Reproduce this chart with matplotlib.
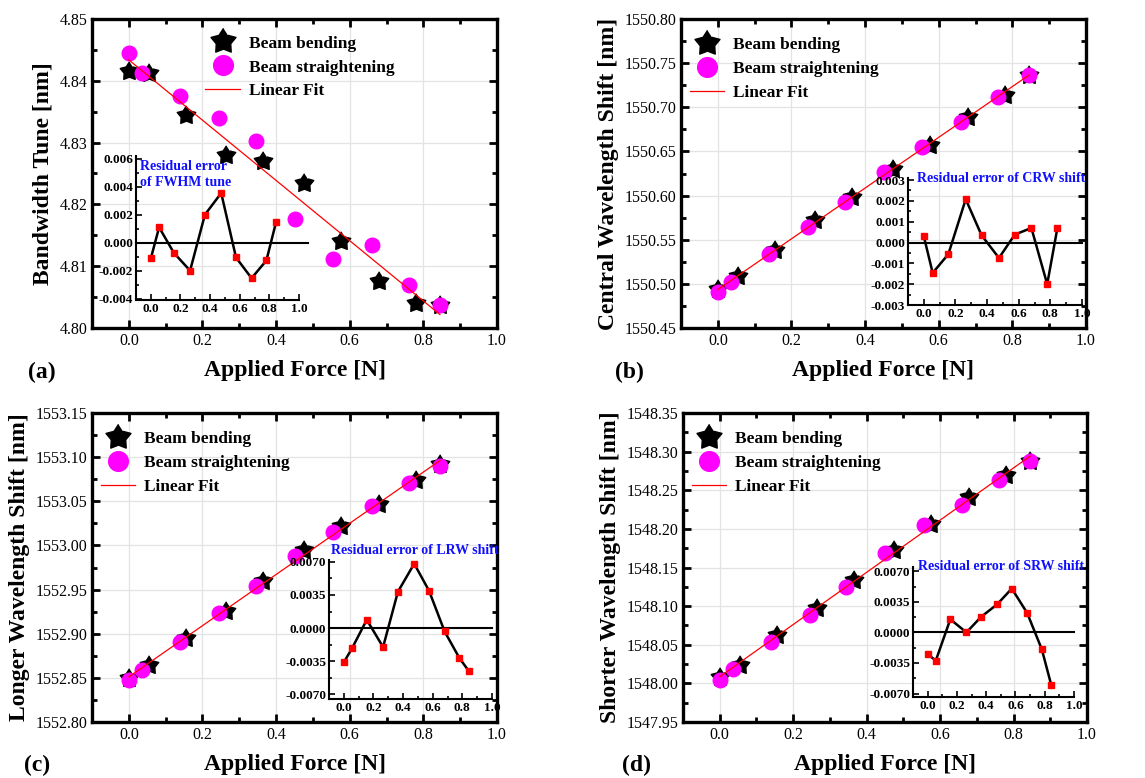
import numpy as np
import matplotlib
matplotlib.use("Agg")
import matplotlib.pyplot as plt
from matplotlib.ticker import MultipleLocator, FormatStrFormatter

plt.rcParams['font.family'] = ['Liberation Serif', 'DejaVu Serif']
plt.rcParams['axes.unicode_minus'] = False

# applied force (x)
force_bend = [0.0, 0.056, 0.155, 0.265, 0.365, 0.475, 0.575, 0.68, 0.78, 0.845]
force_straight = [0.0, 0.035, 0.14, 0.245, 0.345, 0.45, 0.555, 0.66, 0.76, 0.845]

# (a) bandwidth tune
fwhm_bend = [4.8416, 4.8413, 4.8345, 4.8280, 4.8271, 4.8235, 4.8141, 4.8076, 4.8041, 4.8038]
fwhm_straight = [4.8445, 4.8413, 4.8376, 4.8339, 4.8303, 4.8177, 4.8112, 4.8135, 4.8070, 4.8037]
fwhm_resid = [-0.00113, 0.0011, -0.00072, -0.0020, 0.0020, 0.00355, -0.00106, -0.00254, -0.00127, 0.00146]

# (b) central wavelength
crw_bend = [1550.4946, 1550.5085, 1550.5387, 1550.5726, 1550.5983, 1550.6296, 1550.6578, 1550.6888, 1550.7144, 1550.7370]
crw_straight = [1550.4904, 1550.5021, 1550.5342, 1550.5643, 1550.5930, 1550.6262, 1550.6545, 1550.6831, 1550.7118, 1550.7363]
crw_resid = [0.0003, -0.00146, -0.00056, 0.00208, 0.00035, -0.00074, 0.00038, 0.0007, -0.0020, 0.00072]

# (c) longer wavelength
lrw_bend = [1552.8502, 1552.8646, 1552.8957, 1552.9259, 1552.9600, 1552.9948, 1553.0217, 1553.0470, 1553.0743, 1553.0917]
lrw_straight = [1552.8472, 1552.8586, 1552.8911, 1552.9229, 1552.9543, 1552.9876, 1553.0153, 1553.0444, 1553.0709, 1553.0902]
lrw_resid = [-0.00363, -0.00212, 0.00088, -0.00201, 0.00384, 0.00681, 0.00395, -0.00035, -0.00317, -0.00458]

# (d) shorter wavelength
srw_bend = [1548.0083, 1548.0243, 1548.0631, 1548.0981, 1548.1343, 1548.1731, 1548.2068, 1548.2413, 1548.2693, 1548.2879]
srw_straight = [1548.0040, 1548.0191, 1548.0536, 1548.0890, 1548.1248, 1548.1692, 1548.2046, 1548.2305, 1548.2637, 1548.2879]
srw_resid = [-0.0025, -0.00322, 0.00151, 0.0, 0.00178, 0.00322, 0.00503, 0.00223, -0.00193, -0.00605]

W, H = 1145, 778
fig = plt.figure(figsize=(W / 100, H / 100), dpi=100)

# chunky 5-point star like the Origin symbol
ang = np.pi / 2 + np.arange(10) * np.pi / 5
rad = np.where(np.arange(10) % 2 == 0, 1.0, 0.58)
star = list(zip(rad * np.cos(ang), rad * np.sin(ang)))


def px(l, t, r, b):
    return [l / W, 1 - b / H, (r - l) / W, (b - t) / H]


def main_panel(rect, yb, ys, ylim, ystep, ylabel, tag, leg_xy, tag_xy):
    ax = fig.add_axes(px(*rect))
    ax.grid(True, color='#e3e3e3', lw=0.9, zorder=0)
    ax.set_axisbelow(True)
    ax.plot(force_bend, yb, ls='none', marker=star, ms=14, color='black', label='Beam bending', zorder=3)
    ax.plot(force_straight, ys, ls='none', marker='o', ms=10.5, color='#ff00ff', label='Beam straightening', zorder=4)
    k, c = np.polyfit(np.r_[force_bend, force_straight], np.r_[yb, ys], 1)
    xf = np.array([0, max(force_bend)])
    ax.plot(xf, k * xf + c, color='red', lw=0.9, label='Linear Fit', zorder=5)
    ax.set_xlim(-0.1, 1.0)
    ax.set_ylim(*ylim)
    ax.xaxis.set_major_locator(MultipleLocator(0.2))
    ax.xaxis.set_minor_locator(MultipleLocator(0.1))
    ax.yaxis.set_major_locator(MultipleLocator(ystep))
    ax.yaxis.set_minor_locator(MultipleLocator(ystep / 2))
    ax.xaxis.set_major_formatter(FormatStrFormatter('%.1f'))
    ax.yaxis.set_major_formatter(FormatStrFormatter('%.2f'))
    ax.tick_params(which='both', direction='in', top=True, right=True, width=2, labelsize=11.5)
    ax.tick_params(which='major', length=6)
    ax.tick_params(which='minor', length=3.5)
    for s in ax.spines.values():
        s.set_linewidth(2.4)
    ax.set_xlabel('Applied Force [N]', fontsize=17, fontweight='bold', labelpad=8)
    ax.set_ylabel(ylabel, fontsize=17, fontweight='bold', labelpad=4)
    ax.legend(loc='upper left', bbox_to_anchor=leg_xy, frameon=False,
              prop={'weight': 'bold', 'size': 12.5}, markerscale=1.35, handlelength=2.0,
              handletextpad=0.5, labelspacing=0.45, borderpad=0)
    fig.text(tag_xy[0] / W, 1 - tag_xy[1] / H, tag, fontsize=17, fontweight='bold', va='center')
    return ax


def inset(rect, resid, ylim, ystep, fmt, title, title_xy, title_va, zero_end):
    ax = fig.add_axes(px(*rect))
    ax.patch.set_alpha(0)
    ax.plot([-0.1, zero_end], [0, 0], color='black', lw=1.5, clip_on=False, zorder=2)
    ax.plot(force_bend, resid, color='black', lw=1.8, marker='s', ms=5,
            mfc='red', mec='red', zorder=3)
    ax.set_xlim(-0.1, 1.0)
    ax.set_ylim(*ylim)
    ax.xaxis.set_major_locator(MultipleLocator(0.2))
    ax.xaxis.set_minor_locator(MultipleLocator(0.1))
    ax.yaxis.set_major_locator(MultipleLocator(ystep))
    ax.yaxis.set_minor_locator(MultipleLocator(ystep / 2))
    ax.xaxis.set_major_formatter(FormatStrFormatter('%.1f'))
    ax.yaxis.set_major_formatter(FormatStrFormatter(fmt))
    ax.tick_params(which='both', direction='in', width=1.2, labelsize=9.5, pad=2)
    ax.tick_params(which='major', length=4)
    ax.tick_params(which='minor', length=2)
    for lab in ax.get_xticklabels() + ax.get_yticklabels():
        lab.set_fontweight('bold')
    ax.spines['top'].set_visible(False)
    ax.spines['right'].set_visible(False)
    for s in ('left', 'bottom'):
        ax.spines[s].set_linewidth(1.5)
    ax.text(title_xy[0], title_xy[1], title, transform=ax.transAxes, color='#1010ff',
            fontsize=10, fontweight='bold', va=title_va, ha='left', linespacing=1.25)
    return ax


main_panel((92, 19, 497, 328), fwhm_bend, fwhm_straight, (4.80, 4.85), 0.01,
           'Bandwidth Tune [nm]', '(a)', (0.258, 0.975), (28, 372))
inset((136, 156, 299, 300), fwhm_resid, (-0.0041, 0.0062), 0.002, '%.3f',
      'Residual error\nof FWHM tune', (0.025, 0.97), 'top', 1.06)

main_panel((681, 19, 1086, 328), crw_bend, crw_straight, (1550.45, 1550.80), 0.05,
           'Central Wavelength Shift [nm]', '(b)', (0.0, 0.97), (615, 372))
inset((908, 178, 1082, 305), crw_resid, (-0.003, 0.0031), 0.001, '%.3f',
      'Residual error of CRW shift', (0.05, 1.0), 'center', 1.0)

main_panel((92, 413, 497, 722), lrw_bend, lrw_straight, (1552.80, 1553.15), 0.05,
           'Longer Wavelength Shift [nm]', '(c)', (0.0, 0.97), (24, 765))
inset((329, 560, 492, 699), lrw_resid, (-0.0075, 0.0072), 0.0035, '%.4f',
      'Residual error of LRW shift', (0.01, 1.07), 'center', 1.0)

main_panel((683, 413, 1087, 722), srw_bend, srw_straight, (1547.95, 1548.35), 0.05,
           'Shorter Wavelength Shift [nm]', '(d)', (0.0, 0.97), (622, 765))
inset((913, 567, 1074, 697), srw_resid, (-0.0074, 0.0075), 0.0035, '%.4f',
      'Residual error of SRW shift', (0.03, 1.0), 'center', 1.0)

fig.savefig('out.png', dpi=100)
